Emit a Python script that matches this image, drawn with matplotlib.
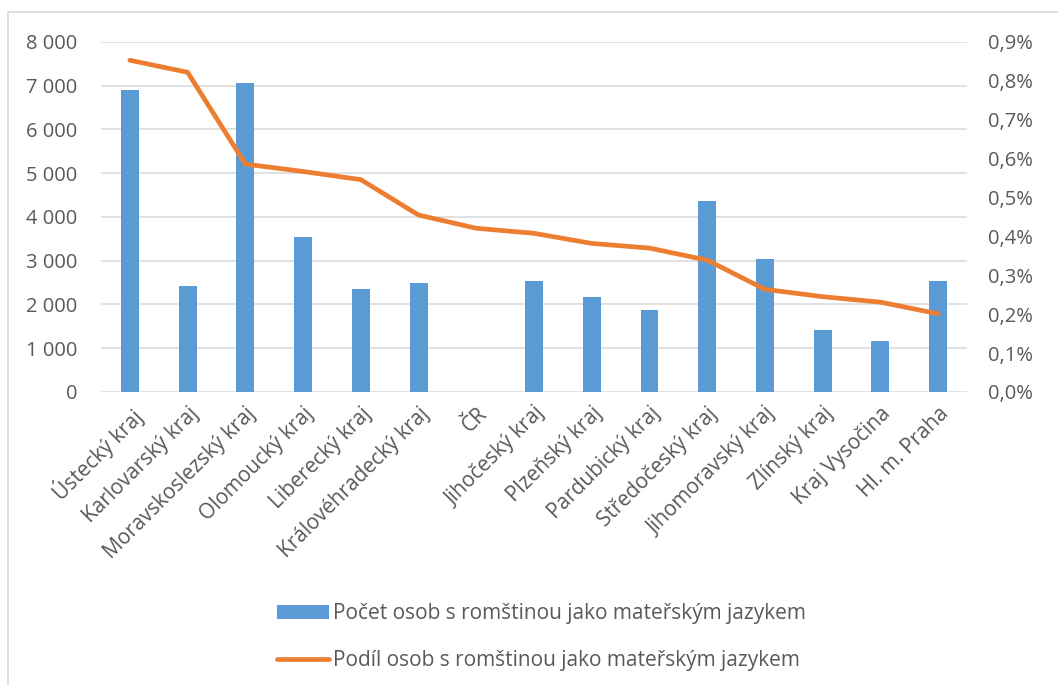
import matplotlib.pyplot as plt
from matplotlib.patches import Rectangle, Patch
from matplotlib.lines import Line2D
from matplotlib.ticker import FuncFormatter

plt.rcParams['font.family'] = ['Open Sans', 'DejaVu Sans']

# data
regions = ['Ústecký kraj', 'Karlovarský kraj', 'Moravskoslezský kraj', 'Olomoucký kraj',
           'Liberecký kraj', 'Královéhradecký kraj', 'ČR', 'Jihočeský kraj', 'Plzeňský kraj',
           'Pardubický kraj', 'Středočeský kraj', 'Jihomoravský kraj', 'Zlínský kraj',
           'Kraj Vysočina', 'Hl. m. Praha']
counts = [6900, 2420, 7060, 3535, 2360, 2490, 0, 2537, 2180, 1875, 4358, 3047, 1424, 1158, 2530]
shares = [0.853, 0.822, 0.586, 0.567, 0.546, 0.455, 0.421, 0.408, 0.382, 0.370,
          0.339, 0.264, 0.245, 0.231, 0.201]

bar_label = 'Počet osob s romštinou jako mateřským jazykem'
line_label = 'Podíl osob s romštinou jako mateřským jazykem'

blue = '#5B9BD5'
orange = '#ED7D31'
grid_c = '#D9D9D9'
text_c = '#595959'

fig = plt.figure(figsize=(10.58, 6.86), dpi=100)
ax1 = fig.add_axes([0.0955, 0.4286, 0.8185, 0.5102])
ax2 = ax1.twinx()

x = list(range(len(regions)))
ax1.bar(x, counts, width=0.31, color=blue, zorder=2)
ax2.plot(x, shares, color=orange, lw=3.4, solid_capstyle='round', solid_joinstyle='round', zorder=3)

ax1.set_xlim(-0.5, len(regions) - 0.5)
ax1.set_ylim(0, 8000)
ax2.set_ylim(0, 0.9)
ax1.set_yticks(range(0, 8001, 1000))
ax2.set_yticks([i / 10 for i in range(10)])
ax1.yaxis.set_major_formatter(FuncFormatter(lambda v, p: f'{int(v):,}'.replace(',', ' ')))
ax2.yaxis.set_major_formatter(FuncFormatter(lambda v, p: f'{v:.1f}%'.replace('.', ',')))

ax1.grid(axis='y', color=grid_c, lw=1.1, zorder=0)
ax1.set_axisbelow(True)
for a in (ax1, ax2):
    for s in a.spines.values():
        s.set_visible(False)
ax1.tick_params(axis='y', length=0, pad=17, labelsize=14.5, labelcolor=text_c)
ax2.tick_params(axis='y', length=0, pad=15, labelsize=14.5, labelcolor=text_c)
ax1.tick_params(axis='x', length=0, pad=8)
ax1.set_xticks(x)
ax1.set_xticklabels(regions, rotation=45, ha='right', va='top', rotation_mode='anchor',
                    fontsize=15, color=text_c)

handles = [Patch(facecolor=blue, edgecolor='none'),
           Line2D([0], [0], color=orange, lw=3.4, solid_capstyle='round')]
fig.legend(handles, [bar_label, line_label], loc='center', bbox_to_anchor=(0.512, 0.071),
           frameon=False, fontsize=15, labelcolor=text_c, handlelength=2.5,
           handleheight=0.7, handletextpad=0.2, labelspacing=1.25)

# outer chart frame
fig.patches.append(Rectangle((8 / 1058, -0.01), 1.1, 1 - 12 / 686 + 0.01, transform=fig.transFigure,
                             fill=False, edgecolor='#D9D9D9', lw=1.2))

fig.savefig('out.png', dpi=100)
